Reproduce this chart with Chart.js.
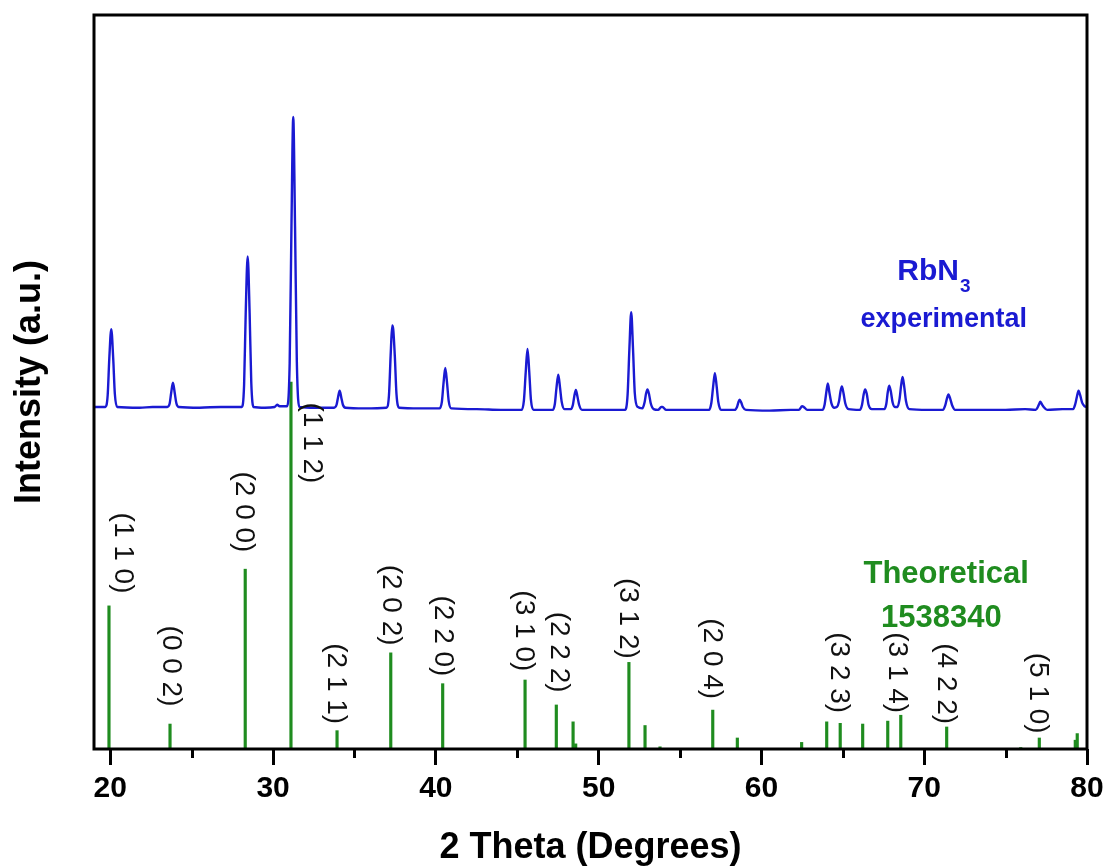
<!DOCTYPE html>
<html>
<head>
<meta charset="utf-8">
<script src="https://cdn.jsdelivr.net/npm/chart.js@4.4.1/dist/chart.umd.min.js"></script>
<style>
  html, body { margin: 0; padding: 0; background: #fff; }
  #wrap { width: 1105px; height: 868px; }
</style>
</head>
<body>
<div id="wrap"><canvas id="xrd" width="1105" height="868"></canvas></div>
<script>
// x axis
const xTicks = [20, 30, 40, 50, 60, 70, 80];
const xMinorTicks = [25, 35, 45, 55, 65, 75];

// experimental RbN3 pattern (offset upwards)
const expTheta = [
  19.02, 19.70, 19.84, 19.94, 20.06, 20.18, 20.28, 20.42, 21.8, 22.6,
  23.50, 23.64, 23.74, 23.85, 23.96, 24.06, 24.20, 25.5, 26.8,
  28.08, 28.22, 28.32, 28.44, 28.56, 28.66, 28.80, 29.5, 30.10, 30.25, 30.40,
  30.86, 31.02, 31.13, 31.24, 31.35, 31.46, 31.62, 32.6,
  33.75, 33.90, 33.99, 34.09, 34.19, 34.29, 34.45, 35.6,
  36.96, 37.12, 37.23, 37.32, 37.38, 37.48, 37.58, 37.74, 39.0,
  40.22, 40.37, 40.47, 40.58, 40.69, 40.79, 40.95, 42.5, 44.0,
  45.27, 45.41, 45.52, 45.63, 45.74, 45.84, 46.00, 46.6,
  47.18, 47.31, 47.41, 47.52, 47.63, 47.73, 47.90,
  48.30, 48.42, 48.50, 48.60, 48.70, 48.80, 48.98, 50.5,
  51.63, 51.78, 51.89, 52.00, 52.11, 52.22, 52.40,
  52.68, 52.82, 52.91, 53.00, 53.10, 53.20, 53.38,
  53.65, 53.85, 53.92, 54.15, 55.5,
  56.78, 56.92, 57.03, 57.14, 57.25, 57.35, 57.52,
  58.35, 58.50, 58.58, 58.66, 58.76, 58.86, 59.05, 60.5, 61.8,
  62.30, 62.50, 62.60, 62.82, 63.3,
  63.75, 63.88, 63.98, 64.08, 64.18, 64.30, 64.48,
  64.64, 64.76, 64.85, 64.94, 65.04, 65.15, 65.35,
  66.05, 66.18, 66.28, 66.37, 66.47, 66.58, 66.78,
  67.55, 67.67, 67.76, 67.85, 67.95, 68.06, 68.20,
  68.36, 68.48, 68.58, 68.67, 68.77, 68.88, 69.08, 70.2,
  71.15, 71.29, 71.39, 71.49, 71.60, 71.72, 71.90, 73.5, 75.0, 76.2,
  76.85, 76.98, 77.06, 77.13, 77.22, 77.34, 77.55, 78.5,
  79.15, 79.28, 79.38, 79.48, 79.58, 79.70, 79.85, 80.0
];
const expCounts = [
  46.6, 46.6, 48.2, 53.2, 57.2, 53.2, 48.4, 46.6, 46.5, 46.6,
  46.6, 47.0, 48.5, 49.9, 48.5, 47.1, 46.6, 46.5, 46.6,
  46.6, 49.6, 59.4, 67.1, 59.4, 50.0, 46.6, 46.5, 46.6, 46.9, 46.7,
  46.7, 52.6, 71.2, 86.1, 71.2, 52.8, 46.6, 46.5,
  46.5, 46.9, 47.9, 48.8, 47.9, 46.9, 46.5, 46.4,
  46.5, 48.2, 54.0, 57.7, 57.2, 53.5, 48.4, 46.5, 46.4,
  46.4, 47.3, 49.8, 51.9, 49.8, 47.4, 46.4, 46.3, 46.2,
  46.2, 47.5, 51.3, 54.5, 51.3, 47.6, 46.2, 46.2,
  46.2, 47.0, 49.2, 51.0, 49.2, 47.3, 46.3,
  46.3, 46.9, 48.0, 48.9, 48.0, 46.9, 46.2, 46.2,
  46.2, 48.3, 54.6, 59.5, 54.6, 48.5, 46.6,
  46.4, 47.2, 48.4, 49.0, 48.3, 47.1, 46.3,
  46.2, 46.6, 46.6, 46.2, 46.2,
  46.2, 47.1, 49.3, 51.2, 49.4, 47.3, 46.2,
  46.2, 46.6, 47.2, 47.6, 47.2, 46.6, 46.2, 46.1, 46.2,
  46.2, 46.7, 46.6, 46.2, 46.2,
  46.2, 46.9, 48.5, 49.8, 48.5, 47.1, 46.5,
  46.6, 47.3, 48.6, 49.4, 48.5, 47.1, 46.3,
  46.2, 46.9, 48.3, 49.0, 48.4, 46.9, 46.3,
  46.3, 47.0, 48.6, 49.5, 48.7, 47.2, 46.6,
  46.6, 47.6, 49.5, 50.7, 49.4, 47.4, 46.3, 46.2,
  46.2, 46.8, 47.7, 48.3, 47.7, 46.8, 46.2, 46.2, 46.2, 46.3,
  46.2, 46.6, 47.0, 47.3, 47.0, 46.6, 46.2, 46.3,
  46.3, 47.0, 48.0, 48.8, 48.2, 47.2, 46.7, 46.6
];

// theoretical reflections (card 1538340)
const theoTheta = [
  19.92, 23.67, 28.29, 31.10, 33.93, 37.23, 40.42, 45.48, 47.40, 48.43,
  48.59, 51.86, 52.85, 53.77, 57.01, 58.52, 62.47, 64.01, 64.84, 66.22,
  67.76, 68.56, 71.38, 75.93, 77.07, 79.28, 79.40
];
const theoIntensity = [
  19.5, 3.4, 24.5, 50.0, 2.5, 13.1, 8.9, 9.4, 6.0, 3.7,
  0.7, 11.8, 3.2, 0.3, 5.3, 1.5, 0.9, 3.7, 3.5, 3.4,
  3.8, 4.6, 3.0, 0.2, 1.5, 1.2, 2.1
];

// Miller index labels and where their centres sit
const hklLabels = ['(1 1 0)', '(0 0 2)', '(2 0 0)', '(1 1 2)', '(2 1 1)', '(2 0 2)', '(2 2 0)', '(3 1 0)',
  '(2 2 2)', '(3 1 2)', '(2 0 4)', '(3 2 3)', '(3 1 4)', '(4 2 2)', '(5 1 0)'];
const hklAtTheta = [20.75, 23.73, 28.21, 32.39, 33.87, 37.24, 40.44, 45.41, 47.56, 51.80, 56.96, 64.76, 68.33, 71.34, 76.99];
const hklAtY = [26.7, 11.3, 32.3, 41.7, 8.9, 19.6, 15.4, 16.1, 13.2, 17.8, 12.3, 10.4, 10.4, 8.9, 7.6];

const BLUE = '#1a1ad2';
const GREEN = '#1f8c1f';

Chart.defaults.font.family = '"Liberation Sans", Arial, sans-serif';
Chart.defaults.color = '#000';

// frame, minor ticks and the text annotations
const decorations = {
  id: 'decorations',
  afterDraw(chart) {
    const { ctx, chartArea: a, scales: { x, y } } = chart;
    ctx.save();
    ctx.strokeStyle = '#000';
    ctx.lineWidth = 3;
    ctx.strokeRect(a.left, a.top, a.right - a.left, a.bottom - a.top);

    ctx.beginPath();
    xMinorTicks.forEach(v => {
      const px = Math.round(x.getPixelForValue(v)) + 0.5;
      ctx.moveTo(px, a.bottom);
      ctx.lineTo(px, a.bottom + 9);
    });
    ctx.stroke();

    // hkl labels, reading top to bottom
    ctx.fillStyle = '#111';
    ctx.font = '28px "Liberation Sans", Arial, sans-serif';
    ctx.textAlign = 'center';
    ctx.textBaseline = 'middle';
    hklLabels.forEach((t, i) => {
      ctx.save();
      ctx.translate(x.getPixelForValue(hklAtTheta[i]), y.getPixelForValue(hklAtY[i]));
      ctx.rotate(Math.PI / 2);
      ctx.fillText(t, 0, 0);
      ctx.restore();
    });

    ctx.textBaseline = 'alphabetic';
    // RbN3 experimental
    ctx.fillStyle = BLUE;
    ctx.textAlign = 'left';
    ctx.font = 'bold 30px "Liberation Sans", Arial, sans-serif';
    const rbX = x.getPixelForValue(68.35);
    ctx.fillText('RbN', rbX, y.getPixelForValue(63.9));
    const w = ctx.measureText('RbN').width;
    ctx.font = 'bold 19px "Liberation Sans", Arial, sans-serif';
    ctx.fillText('3', rbX + w + 1, y.getPixelForValue(62.3));
    ctx.textAlign = 'center';
    ctx.font = 'bold 27px "Liberation Sans", Arial, sans-serif';
    ctx.fillText('experimental', x.getPixelForValue(71.2), y.getPixelForValue(57.5));

    // theoretical card
    ctx.fillStyle = GREEN;
    ctx.font = 'bold 31px "Liberation Sans", Arial, sans-serif';
    ctx.fillText('Theoretical', x.getPixelForValue(71.35), y.getPixelForValue(22.6));
    ctx.fillText('1538340', x.getPixelForValue(71.05), y.getPixelForValue(16.6));
    ctx.restore();
  }
};

new Chart(document.getElementById('xrd'), {
  type: 'line',
  data: {
    datasets: [
      {
        type: 'line',
        label: 'RbN3 experimental',
        data: expTheta.map((t, i) => ({ x: t, y: expCounts[i] })),
        borderColor: BLUE,
        borderWidth: 2.4,
        pointRadius: 0,
        cubicInterpolationMode: 'monotone',
        fill: false
      },
      {
        type: 'bar',
        label: 'Theoretical 1538340',
        data: theoTheta.map((t, i) => ({ x: t, y: theoIntensity[i] })),
        backgroundColor: GREEN,
        borderWidth: 0,
        barThickness: 2.5
      }
    ]
  },
  options: {
    responsive: false,
    animation: false,
    layout: { padding: { top: 15, right: 18, left: 0, bottom: 0 } },
    plugins: { legend: { display: false }, tooltip: { enabled: false } },
    scales: {
      x: {
        type: 'linear',
        min: 19,
        max: 80,
        offset: false,
        afterBuildTicks: s => { s.ticks = xTicks.map(v => ({ value: v })); },
        afterFit: s => { s.height = 119; s.paddingRight = 0; s.paddingLeft = 0; },
        grid: { drawOnChartArea: false, offset: false, tickLength: 16, tickWidth: 3, tickColor: '#000' },
        border: { display: false },
        ticks: { padding: 6, font: { size: 30, weight: 'bold' }, maxRotation: 0 },
        title: {
          display: true,
          text: '2 Theta (Degrees)',
          font: { size: 36, weight: 'bold' },
          padding: { top: 0, bottom: -2 }
        }
      },
      y: {
        min: 0,
        max: 100,
        afterFit: s => { s.width = 94; },
        grid: { display: false },
        border: { display: false },
        ticks: { display: false },
        title: {
          display: true,
          text: 'Intensity (a.u.)',
          font: { size: 36, weight: 'bold' },
          padding: { top: 8, bottom: 0 }
        }
      }
    }
  },
  plugins: [decorations]
});
</script>
</body>
</html>
